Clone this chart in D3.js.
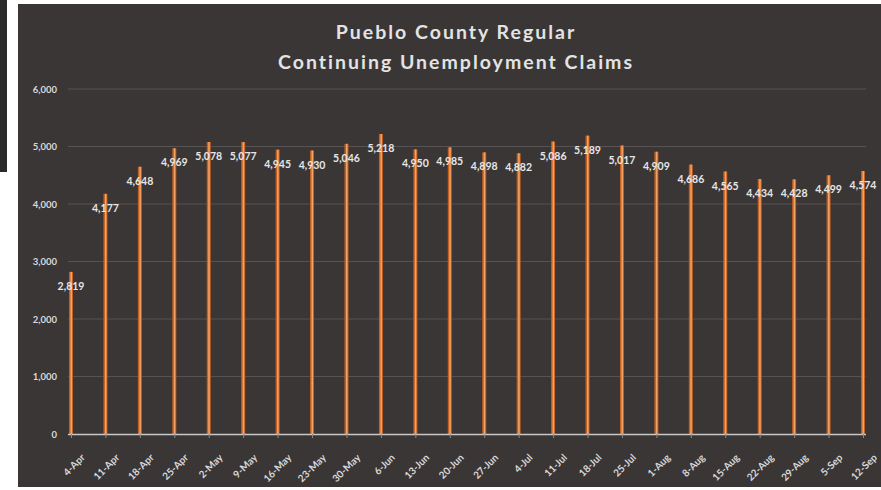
<!DOCTYPE html>
<html>
<head>
<meta charset="utf-8">
<script src="https://cdn.jsdelivr.net/npm/d3@7"></script>
<style>
  body { margin: 0; background: #ffffff; }
  svg { display: block; }
  text { font-family: Lato, "Open Sans", sans-serif; font-weight: bold; }
</style>
</head>
<body>
<div id="container"></div>
<script>
const weeks = ["4-Apr", "11-Apr", "18-Apr", "25-Apr", "2-May", "9-May", "16-May", "23-May", "30-May",
  "6-Jun", "13-Jun", "20-Jun", "27-Jun", "4-Jul", "11-Jul", "18-Jul", "25-Jul", "1-Aug", "8-Aug",
  "15-Aug", "22-Aug", "29-Aug", "5-Sep", "12-Sep"];
const claims = [2819, 4177, 4648, 4969, 5078, 5077, 4945, 4930, 5046, 5218, 4950, 4985, 4898, 4882,
  5086, 5189, 5017, 4909, 4686, 4565, 4434, 4428, 4499, 4574];
const yTicks = [0, 1000, 2000, 3000, 4000, 5000, 6000];
const titleLines = ["Pueblo County Regular", "Continuing Unemployment Claims"];

const w = 881, h = 490;
const svg = d3.select("#container").append("svg").attr("width", w).attr("height", h);

// dark strip at far left and the chart panel
svg.append("rect").attr("x", 0).attr("y", 0).attr("width", 7).attr("height", 172).attr("fill", "#2a2a2a");
svg.append("rect").attr("x", 18).attr("y", 4).attr("width", w - 18).attr("height", 483).attr("fill", "#3a3636");

const x = d3.scalePoint().domain(weeks).range([71, 863]);
const y = d3.scaleLinear().domain([0, 6000]).range([434, 89]);

// gridlines
svg.append("g").selectAll("line").data(yTicks.filter(d => d > 0)).enter().append("line")
  .attr("x1", 68).attr("x2", 866)
  .attr("y1", d => y(d)).attr("y2", d => y(d))
  .attr("stroke", "#575353").attr("stroke-width", 1);

// y axis labels
const yAxis = d3.axisLeft(y).tickValues(yTicks).tickFormat(d3.format(",")).tickSize(0).tickPadding(0);
const gy = svg.append("g").attr("transform", "translate(57,0)").call(yAxis);
gy.select(".domain").remove();
gy.selectAll("text").attr("fill", "#d9d9d9").style("font-size", "9.5px").attr("dy", "0.32em");

// bars
const bars = svg.append("g").selectAll("g").data(weeks).enter().append("g");
bars.append("rect")
  .attr("x", (d) => x(d) - 2).attr("width", 4)
  .attr("y", (d, i) => y(claims[i])).attr("height", (d, i) => y(0) - y(claims[i]))
  .attr("fill", "#c4601e");
bars.append("rect")
  .attr("x", (d) => x(d) - 0.5).attr("width", 1.5)
  .attr("y", (d, i) => y(claims[i])).attr("height", (d, i) => y(0) - y(claims[i]))
  .attr("fill", "#f2a36a");

// x axis
const xAxis = d3.axisBottom(x).tickSize(4).tickPadding(3);
const gx = svg.append("g").attr("transform", `translate(0, ${y(0)})`).call(xAxis);
gx.select(".domain").attr("d", "M68,0.5H866").attr("stroke", "#c8c8c8").attr("stroke-width", 1.5);
gx.selectAll(".tick line").attr("stroke", "#8a8a8a");
gx.selectAll("text")
  .attr("fill", "#d9d9d9").style("font-size", "10px")
  .attr("text-anchor", "end")
  .attr("transform", "translate(5,15) rotate(-45)")
  .attr("dy", "0.6em").attr("dx", "0");

// value labels
svg.append("g").selectAll("text").data(weeks).enter().append("text")
  .attr("x", (d) => x(d))
  .attr("y", (d, i) => y(claims[i]) + 18)
  .attr("text-anchor", "middle")
  .attr("fill", "#e6e6e6").style("font-size", "10.5px")
  .text((d, i) => d3.format(",")(claims[i]));

// title
svg.append("g").selectAll("text").data(titleLines).enter().append("text")
  .attr("x", 456).attr("y", (d, i) => 39 + i * 30)
  .attr("text-anchor", "middle")
  .attr("fill", "#e3e3e3").style("font-size", "19.5px").style("letter-spacing", "2px")
  .text(d => d);
</script>
</body>
</html>
